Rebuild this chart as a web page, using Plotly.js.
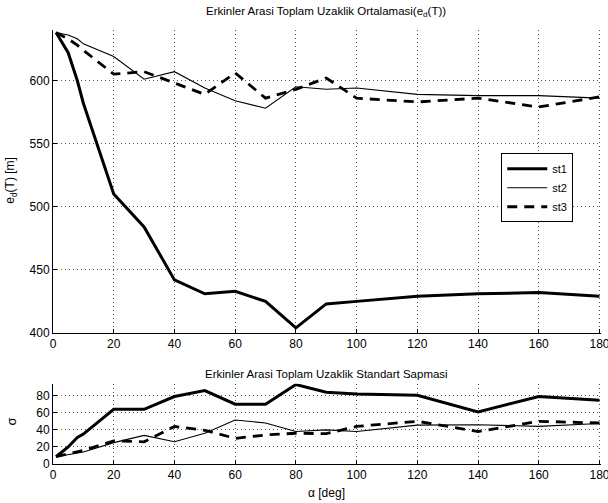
<!DOCTYPE html>
<html>
<head>
<meta charset="utf-8">
<script src="https://cdn.plot.ly/plotly-3.0.1.min.js"></script>
<style>html,body{margin:0;padding:0;background:#fff;}#chart{width:608px;height:503px;}</style>
</head>
<body>
<div id="chart"></div>
<script>
const alpha = [1, 5, 8, 10, 20, 30, 40, 50, 60, 70, 80, 90, 100, 120, 140, 160, 180];
const meanSt1 = [638, 622, 600, 582, 510, 484, 442, 431, 433, 425, 404, 423, 425, 429, 431, 432, 429];
const meanSt2 = [638, 636, 633, 629, 619, 601, 607, 594, 584, 578, 595, 593, 594, 589, 588, 588, 586];
const meanSt3 = [638, 633, 628, 624, 605, 607, 598, 589, 606, 586, 593, 602, 586, 583, 586, 579, 587];
const stdSt1 = [8.5, 20, 31, 35, 64, 64, 79, 86, 70, 70, 93, 84, 82, 80.5, 61, 79, 74.5];
const stdSt2 = [8.5, 11, 12, 14, 25, 33.5, 26, 36, 51.5, 48, 38, 40, 38, 45.5, 46, 44, 47.5];
const stdSt3 = [8.5, 12, 14, 16, 27, 26, 44, 39.5, 30, 34, 36, 35.5, 44, 50, 38, 50, 48];
const seriesNames = ['st1', 'st2', 'st3'];
const xTicks = [0, 20, 40, 60, 80, 100, 120, 140, 160, 180];
const meanTicks = [400, 450, 500, 550, 600];
const stdTicks = [0, 20, 40, 60, 80];

const styles = [
  {color: '#000', width: 3, dash: 'solid'},
  {color: '#000', width: 1.1, dash: 'solid'},
  {color: '#000', width: 2.8, dash: '10px,7px'}
];
const means = [meanSt1, meanSt2, meanSt3];
const stds = [stdSt1, stdSt2, stdSt3];
const traces = [];
for (let i = 0; i < 3; i++) {
  traces.push({x: alpha, y: means[i], name: seriesNames[i], type: 'scatter', mode: 'lines',
    line: styles[i], xaxis: 'x', yaxis: 'y', showlegend: true});
}
for (let i = 0; i < 3; i++) {
  traces.push({x: alpha, y: stds[i], name: seriesNames[i], type: 'scatter', mode: 'lines',
    line: styles[i], xaxis: 'x2', yaxis: 'y2', showlegend: false});
}
const font = {family: 'Liberation Sans, Arial, sans-serif', size: 12, color: '#000'};
const axBase = {
  showline: true, linecolor: '#000', linewidth: 1, mirror: false,
  ticks: 'inside', ticklen: 4, tickcolor: '#000',
  showgrid: true, gridcolor: '#555', griddash: '1px,3px', gridwidth: 1,
  zeroline: false, tickfont: font, ticklabeloverflow: 'allow'
};
const xRange = [0, 180.5];
const layout = {
  width: 608, height: 503,
  margin: {l: 53.3, r: 7.2, t: 30, b: 39},
  paper_bgcolor: '#fff', plot_bgcolor: '#fff',
  font: font,
  showlegend: true,
  legend: {x: 0.818, y: 0.716, xanchor: 'left', yanchor: 'top', bgcolor: '#fff',
    bordercolor: '#000', borderwidth: 1, font: {family: font.family, size: 11, color: '#000'},
    itemwidth: 40, tracegroupgap: 0},
  xaxis: Object.assign({}, axBase, {domain: [0, 1], range: xRange, tickvals: xTicks, anchor: 'y'}),
  yaxis: Object.assign({}, axBase, {domain: [0.302, 1], range: [400, 640], tickvals: meanTicks, anchor: 'x'}),
  xaxis2: Object.assign({}, axBase, {domain: [0, 1], range: xRange, tickvals: xTicks, anchor: 'y2'}),
  yaxis2: Object.assign({}, axBase, {domain: [0, 0.185], range: [0, 94], tickvals: stdTicks, anchor: 'x2'}),
  annotations: [
    {text: 'Erkinler Arasi Toplam Uzaklik Ortalamasi(e<sub>d</sub>(T))', xref: 'paper', yref: 'paper',
      x: 0.499, y: 1.041, xanchor: 'center', yanchor: 'middle', showarrow: false, font: {family: font.family, size: 11.5, color: '#000'}},
    {text: 'Erkinler Arasi Toplam Uzaklik Standart Sapmasi', xref: 'paper', yref: 'paper',
      x: 0.499, y: 0.207, xanchor: 'center', yanchor: 'middle', showarrow: false, font: {family: font.family, size: 11.5, color: '#000'}},
    {text: 'e<sub>d</sub>(T) [m]', xref: 'paper', yref: 'paper', x: -0.0756, y: 0.654,
      xanchor: 'center', yanchor: 'middle', textangle: -90, showarrow: false, font: {family: font.family, size: 12, color: '#000'}},
    {text: 'σ', xref: 'paper', yref: 'paper', x: -0.0756, y: 0.097,
      xanchor: 'center', yanchor: 'middle', textangle: -90, showarrow: false, font: {family: font.family, size: 13, color: '#000'}},
    {text: 'α [deg]', xref: 'paper', yref: 'paper', x: 0.499, y: -0.067,
      xanchor: 'center', yanchor: 'middle', showarrow: false, font: {family: font.family, size: 12, color: '#000'}}
  ]
};
Plotly.newPlot('chart', traces, layout, {displayModeBar: false, staticPlot: true});
</script>
</body>
</html>
